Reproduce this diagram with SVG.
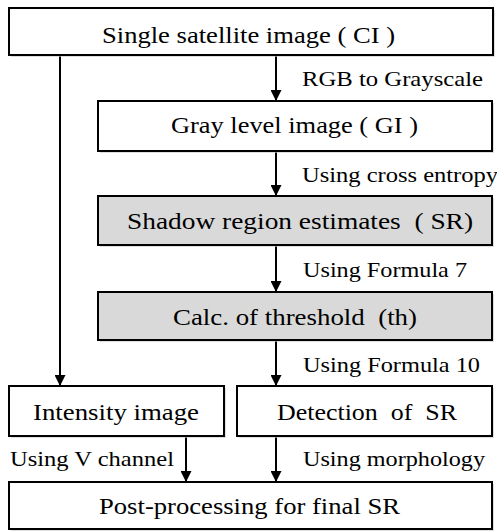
<svg xmlns="http://www.w3.org/2000/svg" width="497" height="531" viewBox="0 0 497 531">
  <style>
    .box { fill: #ffffff; stroke: #000000; stroke-width: 2; }
    .shade { fill: #d9d9d9; }
    .shadow { fill: #c8c8c8; opacity: 0.6; }
    text { font-family: 'Liberation Serif', 'Times New Roman', Times, serif; fill: #000000; white-space: pre; }
    .t { font-size: 24px; }
    .lbl { font-size: 21px; }
    .edge { stroke: #000000; stroke-width: 2; fill: none; marker-end: url(#arrow); }
  </style>
  <defs>
    <marker id="arrow" viewBox="0 0 10 10" refX="10" refY="5" markerWidth="5.5" markerHeight="5.5" orient="auto" markerUnits="strokeWidth">
      <path d="M0,0 L10,5 L0,10 Z" fill="#000000"/>
    </marker>
  </defs>

  <rect width="497" height="531" fill="#ffffff"/>

  <!-- connectors -->
  <g id="connectors">
    <line class="edge" x1="276" y1="55" x2="276" y2="101"/>
    <line class="edge" x1="276" y1="151" x2="276" y2="196"/>
    <line class="edge" x1="276" y1="245" x2="276" y2="292"/>
    <line class="edge" x1="276" y1="340" x2="276" y2="386"/>
    <line class="edge" x1="60" y1="55" x2="60" y2="386"/>
    <line class="edge" x1="186" y1="436" x2="186" y2="482"/>
    <line class="edge" x1="276" y1="436" x2="276" y2="482"/>
    <text class="lbl" x="302" y="86" textLength="181" lengthAdjust="spacingAndGlyphs">RGB to Grayscale</text>
    <text class="lbl" x="302" y="182" textLength="196" lengthAdjust="spacingAndGlyphs">Using cross entropy</text>
    <text class="lbl" x="303" y="277" textLength="164" lengthAdjust="spacingAndGlyphs">Using Formula 7</text>
    <text class="lbl" x="303" y="372" textLength="177" lengthAdjust="spacingAndGlyphs">Using Formula 10</text>
    <text class="lbl" x="10" y="466" textLength="164" lengthAdjust="spacingAndGlyphs">Using V channel</text>
    <text class="lbl" x="303" y="466" textLength="182" lengthAdjust="spacingAndGlyphs">Using morphology</text>
  </g>

  <!-- nodes -->
  <g id="node-ci">
    <rect class="shadow" x="11" y="10" width="484" height="47"/>
    <rect class="box" x="9" y="8" width="484" height="47"/>
    <text class="t" x="102" y="43" textLength="293" lengthAdjust="spacingAndGlyphs">Single satellite image ( CI )</text>
  </g>
  <g id="node-gi">
    <rect class="shadow" x="100" y="103" width="394" height="50"/>
    <rect class="box" x="98" y="101" width="394" height="50"/>
    <text class="t" x="171" y="133" textLength="247" lengthAdjust="spacingAndGlyphs">Gray level image ( GI )</text>
  </g>
  <g id="node-sr">
    <rect class="shadow" x="100" y="198" width="394" height="49"/>
    <rect class="box shade" x="98" y="196" width="394" height="49"/>
    <text class="t" x="127" y="229" textLength="346" lengthAdjust="spacingAndGlyphs" xml:space="preserve">Shadow region estimates  ( SR)</text>
  </g>
  <g id="node-th">
    <rect class="shadow" x="100" y="294" width="394" height="48"/>
    <rect class="box shade" x="98" y="292" width="394" height="48"/>
    <text class="t" x="173" y="325" textLength="244" lengthAdjust="spacingAndGlyphs" xml:space="preserve">Calc. of threshold  (th)</text>
  </g>
  <g id="node-intensity">
    <rect class="shadow" x="11" y="388" width="215" height="50"/>
    <rect class="box" x="9" y="386" width="215" height="50"/>
    <text class="t" x="33" y="420" textLength="166" lengthAdjust="spacingAndGlyphs">Intensity image</text>
  </g>
  <g id="node-detection">
    <rect class="shadow" x="239" y="388" width="255" height="50"/>
    <rect class="box" x="237" y="386" width="255" height="50"/>
    <text class="t" x="277" y="420" textLength="180" lengthAdjust="spacingAndGlyphs" xml:space="preserve">Detection  of  SR</text>
  </g>
  <g id="node-final">
    <rect class="shadow" x="11" y="484" width="483" height="47"/>
    <rect class="box" x="9" y="482" width="483" height="47"/>
    <text class="t" x="99" y="514" textLength="301" lengthAdjust="spacingAndGlyphs">Post-processing for final SR</text>
  </g>
</svg>
